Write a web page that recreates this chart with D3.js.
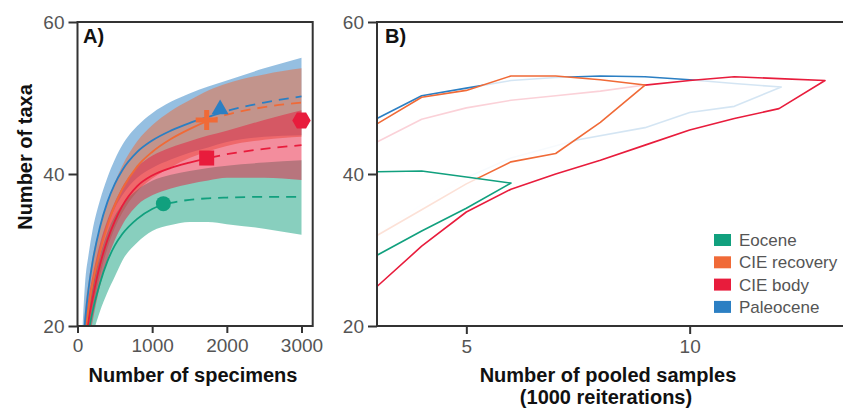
<!DOCTYPE html>
<html>
<head>
<meta charset="utf-8">
<script src="https://cdn.jsdelivr.net/npm/d3@7/dist/d3.min.js"></script>
<style>
  body { margin: 0; background: #fff; }
  svg { display: block; font-family: "Liberation Sans", Arial, Helvetica, sans-serif; }
</style>
</head>
<body>
<svg id="chart" width="843" height="411"></svg>
<script>
// ---------- Panel A: rarefaction curves (taxa vs. specimens) ----------
const specimens = [50, 100, 150, 200, 300, 400, 500, 600, 800, 1000, 1250, 1500, 1750, 2000, 2500, 3000];

const paleoMean  = [13, 20.5, 25, 28.3, 33, 36.3, 38.7, 40.5, 42.9, 44.4, 45.7, 46.7, 47.5, 48.3, 49.4, 50.2];
const paleoUpper = [16, 25.5, 29.5, 32.5, 36.5, 39.5, 41.9, 43.8, 46.3, 48.0, 49.5, 50.6, 51.5, 52.3, 53.9, 55.3];
const paleoLower = [10, 15.5, 20.5, 24, 29.5, 33, 35.5, 37.2, 39.5, 40.8, 41.9, 42.8, 43.5, 44.2, 44.9, 45.1];

const recovMean  = [11, 18.5, 22.5, 25.5, 29.8, 33.2, 35.9, 38.0, 41.0, 42.9, 44.6, 45.9, 47.0, 47.8, 48.8, 49.4];
const recovUpper = [13, 22, 26, 29, 33, 36.2, 38.9, 41.1, 44.3, 46.4, 48.3, 49.7, 51.0, 51.9, 53.1, 53.9];
const recovLower = [9, 15, 19, 22, 26.6, 30.2, 32.9, 34.9, 37.7, 39.4, 40.9, 42.1, 43.0, 43.7, 44.5, 44.9];

const bodyMean  = [10, 17, 20.8, 23.5, 28, 31.3, 33.8, 35.8, 38.4, 39.8, 40.8, 41.5, 42.1, 42.6, 43.3, 43.8];
const bodyUpper = [12, 20, 23.8, 26.5, 30.8, 33.9, 36.3, 38.3, 40.9, 42.4, 43.5, 44.3, 45.05, 45.7, 47.1, 48.4];
const bodyLower = [8, 14, 17.8, 20.5, 25.2, 28.7, 31.3, 33.3, 35.9, 37.2, 38.1, 38.7, 39.15, 39.5, 39.5, 39.2];

const eoMean  = [9, 15.5, 19.2, 21.8, 25.6, 28.5, 30.6, 32.1, 34.1, 35.4, 36.2, 36.6, 36.8, 36.9, 37.0, 37.0];
const eoUpper = [11, 18, 22, 25, 29.2, 32.3, 34.5, 36.0, 37.9, 39.1, 39.9, 40.4, 40.8, 41.1, 41.5, 41.8];
const eoLower = [7, 13, 16.4, 18.6, 21.9, 24.4, 26.5, 28.6, 31.0, 32.5, 33.3, 33.7, 33.7, 33.4, 32.8, 32.0];

// observed sample size and richness (end of interpolation, marker position)
const observedSpecimens = [1910, 1730, 1730, 1150];   // Paleocene, CIE recovery, CIE body, Eocene
const observedTaxa      = [48.5, 47.1, 42.1, 36.1];
const extraPoint = [3000, 47.05];                      // CIE body, hexagon

// ---------- Panel B: pooled-sample curves (upper run, then lower run) ----------
const paleoB = [[3,47.3],[4,50.3],[5,51.3],[6,52.3],[7,52.7],[8,52.9],[9,52.8],[10,52.4],[11,51.9],[12.05,51.45],
                [11,48.9],[10,48.1],[9,46.1],[7.5,44.5],[6,42.1],[5,39.5],[4,36],[3,32]];
const bodyB  = [[3,44.2],[4,47.2],[5,48.7],[6,49.7],[7,50.3],[8,50.9],[9,51.7],[10,52.3],[11,52.8],[12,52.55],[13.03,52.3],
                [12,48.6],[11,47.3],[10,45.8],[9,43.8],[8,41.8],[7,40],[6,38.0],[5,35.0],[4,30.5],[3,25.2]];
const recovB = [[3,46.6],[4,50.1],[5,51.0],[6,52.9],[7,52.9],[8,52.4],[9,51.7],
                [8,46.8],[7,42.7],[6,41.6],[5,38.7],[4,35.3],[3,31.9]];
const eoB    = [[3,40.3],[4,40.4],[5,39.6],[6,38.8],[5,35.5],[4,32.5],[3,29.3]];

const legendNames = ["Eocene", "CIE recovery", "CIE body", "Paleocene"];
const yTicks = [20, 40, 60];
const xTicksA = [0, 1000, 2000, 3000];
const xTicksB = [5, 10];

// ---------- styles ----------
const col = { "Eocene": "#11a07e", "CIE recovery": "#f06a37", "CIE body": "#e81c3c", "Paleocene": "#2b7fc3" };
const axisCol = "#333";
const tickTextCol = "#555";

const svg = d3.select("#chart");

const yA = d3.scaleLinear().domain([20, 60]).range([326, 22]);
const xA = d3.scaleLinear().domain([0, 3150]).range([77.5, 312.7]);
const xB = d3.scaleLinear().domain([3, 13.5]).range([377, 846]);
const yB = yA;

// clip for panel A
const defs = svg.append("defs");
defs.append("clipPath").attr("id", "clipA").append("rect")
  .attr("x", xA(0)).attr("y", yA(60)).attr("width", xA(3150) - xA(0)).attr("height", yA(20) - yA(60));

const gA = svg.append("g").attr("clip-path", "url(#clipA)");

const seriesA = [
  { name: "Paleocene",    mean: paleoMean, lo: paleoLower, hi: paleoUpper, idx: 0 },
  { name: "CIE recovery", mean: recovMean, lo: recovLower, hi: recovUpper, idx: 1 },
  { name: "Eocene",       mean: eoMean,    lo: eoLower,    hi: eoUpper,    idx: 3 },
  { name: "CIE body",     mean: bodyMean,  lo: bodyLower,  hi: bodyUpper,  idx: 2 }
];

const area = d3.area()
  .x(d => xA(d.x)).y0(d => yA(d.lo)).y1(d => yA(d.hi))
  .curve(d3.curveMonotoneX);
const line = d3.line().x(d => xA(d.x)).y(d => yA(d.y)).curve(d3.curveMonotoneX);

// confidence bands
seriesA.forEach(s => {
  const pts = specimens.map((x, i) => ({ x, lo: s.lo[i], hi: s.hi[i] }));
  gA.append("path").attr("d", area(pts))
    .attr("fill", col[s.name]).attr("fill-opacity", 0.5).attr("stroke", "none");
});

// clip paths splitting interpolation (solid) and extrapolation (dashed)
seriesA.forEach(s => {
  const xs = xA(observedSpecimens[s.idx]);
  defs.append("clipPath").attr("id", "solid" + s.idx).append("rect")
    .attr("x", 0).attr("y", 0).attr("width", xs).attr("height", 411);
  defs.append("clipPath").attr("id", "dash" + s.idx).append("rect")
    .attr("x", xs).attr("y", 0).attr("width", 843 - xs).attr("height", 411);
});

const lineOrder = ["Eocene", "CIE body", "CIE recovery", "Paleocene"];
lineOrder.forEach(name => {
  const s = seriesA.find(d => d.name === name);
  const pts = specimens.map((x, i) => ({ x, y: s.mean[i] }));
  const g = gA.append("g");
  g.append("g").attr("clip-path", `url(#solid${s.idx})`)
    .append("path").attr("d", line(pts)).attr("fill", "none")
    .attr("stroke", col[name]).attr("stroke-width", 1.8);
  g.append("g").attr("clip-path", `url(#dash${s.idx})`)
    .append("path").attr("d", line(pts)).attr("fill", "none")
    .attr("stroke", col[name]).attr("stroke-width", 1.8).attr("stroke-dasharray", "10,7");
});

// markers
const mk = svg.append("g");
const names4 = ["Paleocene", "CIE recovery", "CIE body", "Eocene"];
names4.forEach((name, i) => {
  const cx = xA(observedSpecimens[i]), cy = yA(observedTaxa[i]);
  const c = col[name];
  if (name === "Paleocene") {
    mk.append("path").attr("d", d3.symbol(d3.symbolTriangle, 125)())
      .attr("transform", `translate(${cx},${cy})`).attr("fill", c);
  } else if (name === "CIE recovery") {
    mk.append("path").attr("d", "M-11,0H11M0,-10V10")
      .attr("transform", `translate(${cx},${cy})`).attr("stroke", c).attr("stroke-width", 5).attr("fill", "none");
  } else if (name === "CIE body") {
    mk.append("rect").attr("x", cx - 7.5).attr("y", cy - 7.5).attr("width", 15).attr("height", 15).attr("fill", c);
  } else {
    mk.append("circle").attr("cx", cx).attr("cy", cy).attr("r", 7.5).attr("fill", c);
  }
});
{
  const cx = xA(extraPoint[0]), cy = yA(extraPoint[1]), r = 9.2;
  const hex = d3.range(6).map(k => [cx + r * Math.cos(k * Math.PI / 3), cy + r * Math.sin(k * Math.PI / 3)]);
  mk.append("polygon").attr("points", hex.map(p => p.join(",")).join(" ")).attr("fill", col["CIE body"]);
}

// ---------- Panel B curves ----------
const gB = svg.append("g");
const lineB = d3.line().x(d => xB(d[0])).y(d => yB(d[1]));
[["Paleocene", paleoB], ["CIE body", bodyB], ["CIE recovery", recovB], ["Eocene", eoB]].forEach(([name, pts]) => {
  gB.append("path").attr("d", lineB(pts))
    .attr("fill", "#fff").attr("fill-opacity", 0.8)
    .attr("stroke", col[name]).attr("stroke-width", 1.6).attr("stroke-linejoin", "round");
});

// ---------- axes ----------
function styleAxis(g) {
  g.select(".domain").remove();
  g.selectAll(".tick line").attr("stroke", axisCol).attr("stroke-width", 2);
  g.selectAll(".tick text").attr("fill", tickTextCol).style("font-size", "19px")
    .style("font-family", '"Liberation Sans", Arial, sans-serif');
}

// panel A frame and axes
svg.append("rect").attr("x", xA(0)).attr("y", yA(60)).attr("width", xA(3150) - xA(0)).attr("height", yA(20) - yA(60))
  .attr("fill", "none").attr("stroke", axisCol).attr("stroke-width", 2);
svg.append("g").attr("transform", `translate(${xA(0)},0)`)
  .call(d3.axisLeft(yA).tickValues(yTicks).tickSize(9).tickPadding(4).tickSizeOuter(0)).call(styleAxis);
svg.append("g").attr("transform", `translate(0,${yA(20)})`)
  .call(d3.axisBottom(xA).tickValues(xTicksA).tickFormat(d3.format("d")).tickSize(7).tickPadding(6).tickSizeOuter(0)).call(styleAxis);

// panel B frame and axes
svg.append("path").attr("d", `M${xB(13.5)},${yB(60)}H${xB(3)}V${yB(20)}H${xB(13.5)}`)
  .attr("fill", "none").attr("stroke", axisCol).attr("stroke-width", 2);
svg.append("g").attr("transform", `translate(${xB(3)},0)`)
  .call(d3.axisLeft(yB).tickValues(yTicks).tickSize(9).tickPadding(4).tickSizeOuter(0)).call(styleAxis);
svg.append("g").attr("transform", `translate(0,${yB(20)})`)
  .call(d3.axisBottom(xB).tickValues(xTicksB).tickSize(8).tickPadding(6).tickSizeOuter(0)).call(styleAxis);

// ---------- titles and labels ----------
const bold = t => t.attr("font-weight", "bold").attr("fill", "#111").style("font-size", "20px");
svg.append("text").attr("x", 83).attr("y", 43).text("A)").call(bold);
svg.append("text").attr("x", 385).attr("y", 43).text("B)").call(bold);
svg.append("text").attr("transform", "translate(32,157) rotate(-90)").attr("text-anchor", "middle")
  .text("Number of taxa").call(bold);
svg.append("text").attr("x", 193).attr("y", 382).attr("text-anchor", "middle")
  .text("Number of specimens").call(bold);
svg.append("text").attr("x", 608).attr("y", 382).attr("text-anchor", "middle")
  .text("Number of pooled samples").call(bold);
svg.append("text").attr("x", 606).attr("y", 404).attr("text-anchor", "middle")
  .text("(1000 reiterations)").call(bold);

// legend
const lg = svg.append("g").attr("transform", "translate(714,240)");
legendNames.forEach((name, i) => {
  const row = lg.append("g").attr("transform", `translate(0,${i * 22.3})`);
  row.append("rect").attr("x", 0).attr("y", -6).attr("width", 17).attr("height", 12).attr("fill", col[name]);
  row.append("text").attr("x", 25).attr("y", 6).attr("fill", tickTextCol).style("font-size", "17px").text(name);
});
</script>
</body>
</html>
